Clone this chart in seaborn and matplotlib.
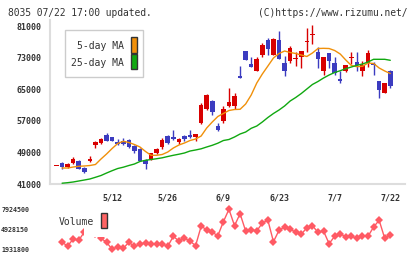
import numpy as np
import pandas as pd
import seaborn as sns
from matplotlib import pyplot as plt
from matplotlib.patches import Rectangle

# 8035 daily candles, 61 sessions (index 0 = first day on chart)
opens = [45460, 46240, 45380, 46320, 46750, 45130, 46820, 50800, 51300, 53480,
         52820, 51710, 51890, 52140, 50620, 49860, 47000, 47400, 48850, 50440,
         53150, 52900, 51710, 53030, 53480, 52970, 56520, 59910, 62010, 55680,
         57030, 60750, 60750, 68340, 74670, 71380, 69680, 73730, 77460, 73730,
         77460, 71630, 72220, 72700, 73230, 77000, 78700, 74420, 69680, 74160,
         71630, 67580, 69680, 72800, 71890, 69680, 71710, 71070, 67080, 64110, 69610]
closes = [45500, 45180, 45990, 47280, 44870, 44110, 47400, 51630, 52390, 51960,
          51960, 51200, 51050, 50290, 49230, 46820, 45940, 48850, 49860, 52140,
          51300, 52320, 52390, 52270, 52970, 53660, 61000, 63530, 59300, 54670,
          59990, 61760, 63280, 67830, 72470, 70700, 72650, 76190, 75250, 77710,
          72720, 69680, 75430, 72740, 74670, 77040, 78740, 72720, 73150, 72220,
          69180, 67150, 71050, 72840, 71200, 71050, 74160, 71030, 64870, 66570, 65890]
highs = [45520, 46570, 46240, 47710, 47080, 45300, 48090, 51960, 52650, 53840,
         52900, 52390, 52570, 52270, 50800, 49990, 47400, 48970, 50110, 52720,
         53280, 54670, 52520, 53280, 54670, 53780, 61580, 63660, 62270, 56370,
         60750, 65300, 63960, 70870, 74670, 73230, 73150, 76770, 77960, 77960,
         79730, 73400, 75940, 74420, 74670, 80490, 81150, 75610, 73150, 74160,
         73080, 69680, 71200, 74420, 74420, 72060, 74920, 71890, 67080, 66570, 69860]
lows = [45440, 44850, 45130, 46060, 44720, 43860, 46650, 50110, 51130, 51810,
        51890, 50950, 50800, 50110, 48850, 46700, 44920, 47200, 48720, 49940,
        51130, 52140, 51050, 52010, 52650, 51960, 56190, 59730, 58470, 54340,
        56520, 60420, 59910, 67830, 72470, 70620, 69610, 73080, 73730, 73580,
        72720, 68340, 71710, 70870, 70370, 74420, 76440, 70370, 68590, 70370,
        68590, 66490, 69350, 71380, 69680, 68420, 70700, 68590, 62850, 64110, 65380]
ma5 = [np.nan, 45050, 45050, 45300, 45480, 45560, 45680, 45940, 47330, 48600,
       49990, 51250, 51810, 51510, 51000, 50370, 49230, 48270, 48270, 48470,
       49100, 50110, 50870, 51380, 52010, 52390, 53150, 55180, 56700, 58090,
       58850, 59610, 59860, 59910, 61250, 63530, 66570, 68850, 70870, 72900,
       74040, 74670, 74290, 74040, 73660, 73280, 74160, 75300, 75350, 75300,
       74800, 73910, 72390, 71000, 70700, 70800, 71630, 71510, 70370, 69610, 68970]
ma25 = [np.nan, 41200, 41330, 41510, 41760, 42010, 42270, 42700, 43150, 43780,
        44370, 44920, 45250, 45680, 46060, 46700, 47000, 47200, 47400, 47630,
        47960, 48270, 48540, 48850, 49350, 49610, 49910, 50370, 50800, 51330,
        52010, 52270, 52900, 53660, 54160, 55100, 55680, 56700, 57840, 58850,
        59730, 60750, 62010, 62900, 63910, 65050, 66190, 66950, 67830, 68590,
        69230, 69680, 70190, 70620, 71050, 71380, 71890, 72570, 72570, 72570, 72320]
volume = [np.nan, 2980500, 2426000, 3475000, 3280000, 4524000, 4973000, 4224000, 3580000, 2980500,
          1931800, 2321000, 2082000, 2980500, 2381000, 2681000, 2921000, 2681000, 2771000, 2726000,
          2381000, 3879000, 3175000, 3580000, 3175000, 2471000, 5378000, 4868000, 4479000, 3969000,
          6067000, 7924500, 5467000, 7265000, 4673000, 4868000, 4673000, 5872000, 6277000, 3070000,
          4778000, 5273000, 4973000, 4479000, 4179000, 5168000, 5467000, 4479000, 4673000, 2771000,
          3879000, 4269000, 3775000, 3879000, 3580000, 3969000, 3879000, 5273000, 6277000, 3580000, 4074000]
date_labels = ['5/12', '5/26', '6/9', '6/23', '7/7', '7/22']
date_pos = [10, 20, 30, 40, 50, 60]
price_ticks = [41000, 49000, 57000, 65000, 73000, 81000]

df = pd.DataFrame({'i': np.arange(len(opens)), 'o': opens, 'c': closes, 'h': highs, 'l': lows,
                   'ma5': ma5, 'ma25': ma25, 'vol': volume})

sns.set_style('white')
plt.rcParams['font.family'] = ['DejaVu Sans Mono']

RED, BLUE = '#d80000', '#3c3cc0'
ORANGE, GREEN = '#f0900a', '#10a810'
VOLC = '#ff5a64'
AXC = '#dddddd'
TXT = '#333333'

W, H = 420, 259
fig = plt.figure(figsize=(4.2, 2.59), dpi=100)
ax = fig.add_axes([50 / W, 75 / H, 355.3 / W, 164 / H])
axv = fig.add_axes([50 / W, 6 / H, 355.3 / W, 48 / H])

up = df.c >= df.o
cols = np.where(up, RED, BLUE)
ax.vlines(df.i, df.l, df.h, colors=cols, lw=1, zorder=2)
body = np.maximum((df.c - df.o).abs(), 250)
ax.bar(df.i, body, bottom=np.minimum(df.o, df.c), width=0.82, color=cols, lw=0, zorder=3)

sns.lineplot(data=df, x='i', y='ma5', ax=ax, color=ORANGE, lw=1, zorder=4)
sns.lineplot(data=df, x='i', y='ma25', ax=ax, color=GREEN, lw=1, zorder=4)

xlim = (-1.17, 62.7)
ax.set_xlim(xlim)
ax.set_ylim(41000, 82520)
ax.set_xlabel('')
ax.set_ylabel('')
for s in ['top', 'right']:
    ax.spines[s].set_visible(False)
for s in ['left', 'bottom']:
    ax.spines[s].set_color(AXC)
    ax.spines[s].set_linewidth(1.5)
ax.set_yticks(price_ticks)
ax.set_yticklabels([str(v) for v in price_ticks])
ax.tick_params(axis='y', direction='inout', length=6.5, width=1.5, color=AXC,
               labelsize=6, labelcolor=TXT, pad=3)
ax.set_xticks(date_pos)
ax.set_xticklabels(date_labels)
ax.set_xticks(np.linspace(xlim[0], xlim[1], 12), minor=True)
ax.tick_params(axis='x', which='major', length=0, labelsize=6, labelcolor=TXT, pad=7)
ax.tick_params(axis='x', which='minor', direction='inout', length=6, width=1.5, color=AXC)
for t in ax.get_yticklabels() + ax.get_xticklabels():
    t.set_fontweight('bold')

# volume panel
sns.lineplot(data=df, x='i', y='vol', ax=axv, color=VOLC, lw=1, marker='D',
             markersize=3.6, markeredgewidth=0)
vmin, vmax = np.nanmin(volume), np.nanmax(volume)
axv.set_xlim(xlim)
axv.set_ylim(1377500, 8568700)
axv.set_yticks([vmin, (vmin + vmax) / 2, vmax])
axv.set_yticklabels(['%d' % vmin, '%d' % ((vmin + vmax) / 2), '%d' % vmax])
axv.set_xticks([])
axv.tick_params(axis='y', length=0, labelsize=4.8, labelcolor=TXT, pad=15)
for t in axv.get_yticklabels():
    t.set_fontweight('bold')
axv.set_xlabel('')
axv.set_ylabel('')
for s in axv.spines.values():
    s.set_visible(False)

# header
fig.text(8 / W, 1 - 12.5 / H, '8035 07/22 17:00 updated.', fontsize=6.9, color=TXT, va='center')
fig.text(407 / W, 1 - 12.5 / H, '(C)https://www.rizumu.net/', fontsize=6.9, color=TXT,
         va='center', ha='right')


def box(x0, y0, x1, y1, **kw):
    fig.add_artist(Rectangle((x0 / W, 1 - y1 / H), (x1 - x0) / W, (y1 - y0) / H,
                             transform=fig.transFigure, zorder=5, **kw))


# MA legend
box(65.3, 30, 143.3, 76.7, fc='white', ec='#cccccc', lw=1)
fig.text(124 / W, 1 - 45.7 / H, '5-day MA', fontsize=7, color=TXT, ha='right', va='center', zorder=6)
fig.text(124 / W, 1 - 63.3 / H, '25-day MA', fontsize=7, color=TXT, ha='right', va='center', zorder=6)
box(131.3, 36.7, 137.3, 52.7, fc=ORANGE, ec='#333333', lw=1)
box(131.3, 54, 137.3, 69.3, fc=GREEN, ec='#333333', lw=1)

# volume legend
box(84, 207, 111, 237, fc='white', ec='none')
fig.text(58.7 / W, 1 - 222 / H, 'Volume', fontsize=7, color=TXT, ha='left', va='center', zorder=6)
box(101.3, 213.3, 107.3, 228.3, fc='#ff6464', ec='#333333', lw=1)

fig.savefig('out.png', dpi=100)
